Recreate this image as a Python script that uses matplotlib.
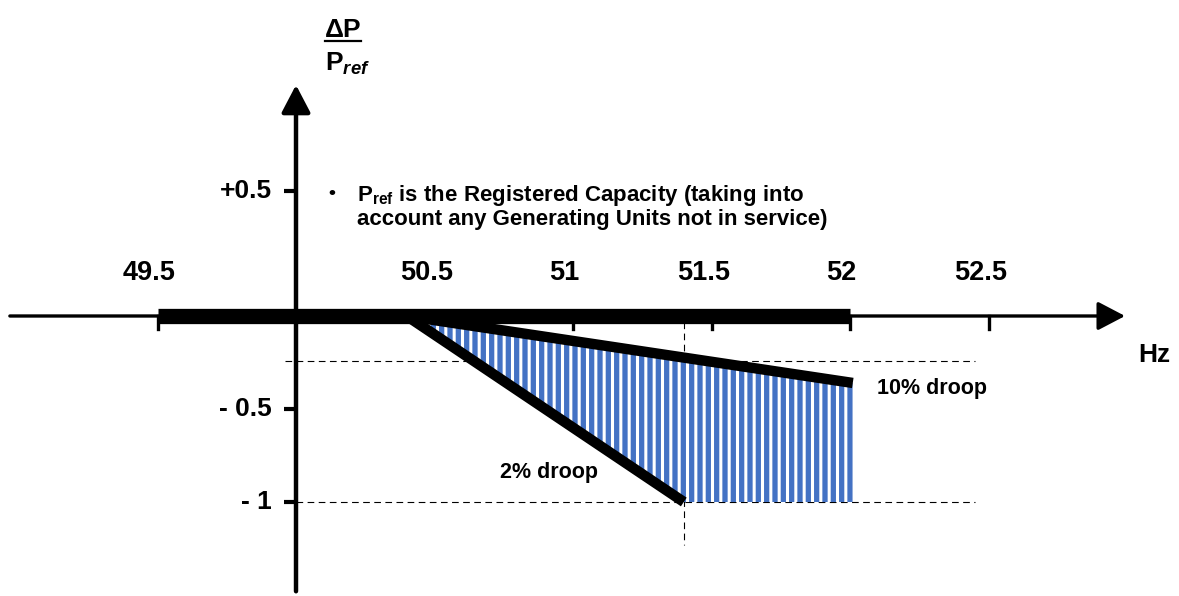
"""
Curva de respuesta en frecuencia (droop) - diagrama dP/Pref vs Hz
"""

import numpy as np
import matplotlib
matplotlib.use("Agg")
import matplotlib.pyplot as plt

# ---------------------------------------------------------------------------
# Datos
# ---------------------------------------------------------------------------
xtick_vals = [49.5, 50.5, 51.0, 51.5, 52.0, 52.5]
xtick_labels = ["49.5", "50.5", "51", "51.5", "52", "52.5"]
ytick_pos = [0.67, -0.5, -1.0]
ytick_labels = ["+0.5", "- 0.5", "- 1"]

droop2_hz = [50.4, 51.4]
droop2_dp = [0.0, -1.0]
droop10_hz = [50.4, 52.01]
droop10_dp = [0.0, -0.36]

band_hz = [49.5, 52.0]       # tramo grueso del eje x
ref_dp = -0.24               # linea de trazos horizontal superior
ref_hz = 51.4                # linea de trazos vertical

BLUE = "#4472C4"

plt.rcParams["font.family"] = ["Liberation Sans", "DejaVu Sans"]
plt.rcParams["font.weight"] = "bold"
plt.rcParams["mathtext.fontset"] = "custom"
plt.rcParams["mathtext.rm"] = "Liberation Sans:bold"
plt.rcParams["mathtext.bf"] = "Liberation Sans:bold"
plt.rcParams["mathtext.it"] = "Liberation Sans:bold:italic"
plt.rcParams["hatch.linewidth"] = 2.2

fig = plt.figure(figsize=(11.79, 5.96), dpi=100)
ax = fig.add_axes([0, 0, 1, 1])
ax.set_xlim(48.9314, 53.1877)
ax.set_ylim(-1.5054, 1.6989)
ax.axis("off")

# ---------------------------------------------------------------------------
# Ejes con flechas
# ---------------------------------------------------------------------------
arrow = dict(arrowstyle="-|>,head_length=0.42,head_width=0.22", lw=2.4,
             color="black", shrinkA=0, shrinkB=0, mutation_scale=40)
ax.annotate("", xy=(52.993, 0), xytext=(48.967, 0), arrowprops=arrow, zorder=3)
arrow_y = dict(arrow, lw=3.2)
ax.annotate("", xy=(50.0, 1.242), xytext=(50.0, -1.48), arrowprops=arrow_y, zorder=3)

ax.plot(band_hz, [0, 0], color="black", lw=11, solid_capstyle="butt", zorder=5)

# ticks del eje x (debajo del eje)
for v, lab in zip(xtick_vals, xtick_labels):
    ax.plot([v, v], [0, -0.07], color="black", lw=2.4, zorder=1)
    ax.text(v - 0.03, 0.231, lab, ha="center", va="center", fontsize=19.5,
            fontweight="bold")

# ticks del eje y (a la izquierda)
for p, lab in zip(ytick_pos, ytick_labels):
    ax.plot([49.955, 50.0], [p, p], color="black", lw=3, solid_capstyle="butt")
    ax.text(49.913, p, lab, ha="right", va="center", fontsize=19,
            fontweight="bold")

# ---------------------------------------------------------------------------
# Lineas de referencia
# ---------------------------------------------------------------------------
dash = dict(color="black", lw=0.8, dashes=(6, 4), zorder=1)
ax.plot([49.96, 52.45], [ref_dp, ref_dp], **dash)
ax.plot([50.0, 52.45], [-1.0, -1.0], **dash)
ax.plot([ref_hz, ref_hz], [-0.03, -1.23], **dash)

# ---------------------------------------------------------------------------
# Zona rayada entre 10% y 2% droop
# ---------------------------------------------------------------------------
xs = np.array([droop10_hz[0], droop2_hz[1], droop10_hz[1]])
upper = np.interp(xs, droop10_hz, droop10_dp)
lower = np.maximum(np.interp(xs, droop2_hz, droop2_dp), -1.0)
ax.fill_between(xs, lower, upper, facecolor=BLUE, edgecolor="white",
                hatch="||", linewidth=0, zorder=2)

ax.plot(droop2_hz, droop2_dp, color="black", lw=7.5, solid_capstyle="butt", zorder=4)
ax.plot(droop10_hz, droop10_dp, color="black", lw=7.5, solid_capstyle="butt", zorder=4)

# ---------------------------------------------------------------------------
# Textos
# ---------------------------------------------------------------------------
ax.text(50.913, -0.839, "2% droop", ha="center", va="center", fontsize=15.5)
ax.text(52.097, -0.392, "10% droop", ha="left", va="center", fontsize=15.5)
ax.text(53.10, -0.21, "Hz", ha="center", va="center", fontsize=19)

ax.text(50.105, 1.50, "\u0394P", ha="left", va="baseline", fontsize=19)
ax.plot([50.105, 50.235], [1.478, 1.478], color="black", lw=1.6)
ax.text(50.105, 1.317, r"$\mathrm{P}_{ref}$", ha="left", va="baseline", fontsize=19)

ax.text(50.13, 0.66, "\u2022", ha="center", va="center", fontsize=14)
ax.text(50.220, 0.618, r"$\mathrm{P}_{\mathrm{ref}}$ is the Registered Capacity (taking into",
        ha="left", va="baseline", fontsize=16)
ax.text(50.220, 0.489, "account any Generating Units not in service)",
        ha="left", va="baseline", fontsize=16)

fig.savefig("out.png", dpi=100)
